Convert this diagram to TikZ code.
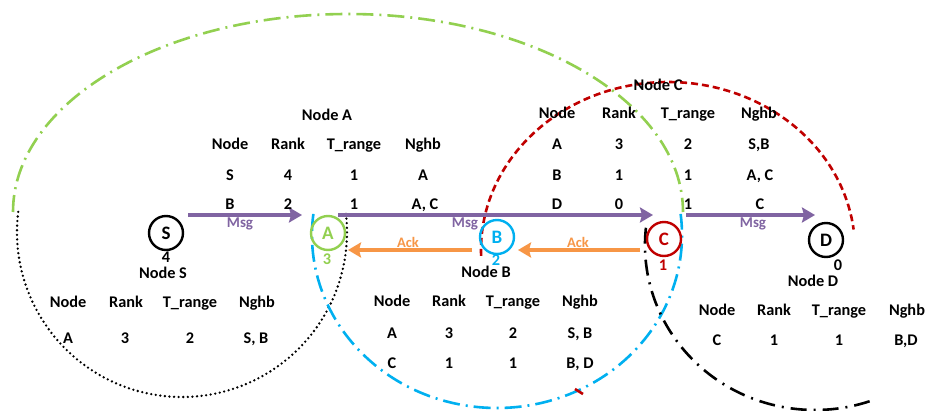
\documentclass[tikz,border=0pt]{standalone}
\usepackage{fontspec}
\setmainfont{Carlito}
\usetikzlibrary{arrows.meta}
\definecolor{cgreen}{HTML}{92D050}
\definecolor{ccyan}{HTML}{00B0F0}
\definecolor{cred}{HTML}{C00000}
\definecolor{cpurple}{HTML}{8064A2}
\definecolor{corange}{HTML}{F79646}
\begin{document}
\begin{tikzpicture}[x=1pt,y=-1pt,
  cell/.style={anchor=base,inner sep=0pt,font=\fontsize{16.3}{18}\selectfont\bfseries},
  peer/.style={circle,draw,line width=2.4pt,minimum size=34pt,inner sep=0pt,font=\fontsize{19}{20}\selectfont\bfseries},
  msg/.style={draw=cpurple,line width=4pt,-{Stealth[length=13pt,width=15pt,inset=2pt]}},
  ack/.style={draw=corange,line width=4pt,-{Stealth[length=13pt,width=15pt,inset=2pt]}},
  msglbl/.style={anchor=base,inner sep=0pt,text=cpurple,font=\fontsize{15}{16}\selectfont\bfseries},
  acklbl/.style={anchor=base,inner sep=0pt,text=corange,font=\fontsize{14.5}{16}\selectfont\bfseries},
  rng/.style={line width=2.6pt},
  dashdot/.style={dash pattern=on 17pt off 6pt on 2pt off 6pt},
]
\useasboundingbox (0,0) rectangle (927,410);
\fill[white] (0,0) rectangle (927,410);

% ranges
\draw[rng,cgreen,dashdot] (348,212) ++(180:335pt and 198pt)
  arc[start angle=180,end angle=0,x radius=335pt,y radius=198pt];
\draw[rng,black,line cap=round,dash pattern=on 0pt off 4.6pt] (182,232) ++(173:165pt and 165pt)
  arc[start angle=173,end angle=367,x radius=165pt,y radius=165pt];
\draw[rng,ccyan,dashdot] (497,235) ++(173:185pt and 173pt)
  arc[start angle=173,end angle=367,x radius=185pt,y radius=173pt];
\draw[rng,cred,dash pattern=on 7pt off 4pt] (668,250) ++(182:187pt and 168pt)
  arc[start angle=182,end angle=7,x radius=187pt,y radius=168pt];
\draw[rng,cred] (575,389) -- (583,394);
\draw[rng,black,dash pattern=on 16pt off 7pt on 2pt off 7pt] (815,245) ++(174:170pt and 165pt)
  arc[start angle=174,end angle=290,x radius=170pt,y radius=165pt];

% peers
\node[peer] (S) at (166,233) {S};
\node[peer,draw=cgreen,text=cgreen] (A) at (328,233) {A};
\node[peer,draw=ccyan,text=ccyan] (B) at (497,237) {B};
\node[peer,draw=cred,text=cred] (C) at (664,239) {C};
\node[peer] (D) at (826,240) {D};

% rank labels under peers
\node[cell] (Sr) at (166,262) {4};
\node[cell,text=cgreen] (Ar) at (327,264) {3};
\node[cell,text=ccyan] (Br) at (496,265) {2};
\node[cell,text=cred] (Cr) at (663,270) {1};
\node[cell] (Dr) at (838,270) {0};

% arrows
\coordinate (m1a) at (188,215); \coordinate (m1b) at (302,215);
\coordinate (m2a) at (338,215); \coordinate (m2b) at (653,215);
\coordinate (m3a) at (686,215); \coordinate (m3b) at (815,215);
\coordinate (k1a) at (640,250); \coordinate (k1b) at (518,250);
\coordinate (k2a) at (472,250); \coordinate (k2b) at (348,250);
\draw[msg] (m1a) -- (m1b);
\draw[msg] (m2a) -- (m2b);
\draw[msg] (m3a) -- (m3b);
\draw[ack] (k1a) -- (k1b);
\draw[ack] (k2a) -- (k2b);
\node[msglbl] (l1) at (240,227) {Msg};
\node[msglbl] (l2) at (465,227) {Msg};
\node[msglbl] (l3) at (753,227) {Msg};
\node[acklbl] (l4) at (408,247) {Ack};
\node[acklbl] (l5) at (578,247) {Ack};

% table A
\node[cell] (aT) at (327,120) {Node A};
\foreach \t/\x [count=\i] in {Node/230,Rank/288,T\_range/354,Nghb/423}
  \node[cell] (a0\i) at (\x,149) {\t};
\foreach \t/\x [count=\i] in {S/230,4/288,1/354,A/423}
  \node[cell] (a1\i) at (\x,180) {\t};
\foreach \t/\x [count=\i] in {B/230,2/288,1/354,{A, C}/425}
  \node[cell] (a2\i) at (\x,209) {\t};

% table C
\node[cell] (cT) at (658,90) {Node C};
\foreach \t/\x [count=\i] in {Node/557,Rank/619,T\_range/688,Nghb/759}
  \node[cell] (c0\i) at (\x,118) {\t};
\foreach \t/\x [count=\i] in {A/557,3/619,2/688,{S,B}/759}
  \node[cell] (c1\i) at (\x,149) {\t};
\foreach \t/\x [count=\i] in {B/557,1/619,1/688,{A, C}/760}
  \node[cell] (c2\i) at (\x,180) {\t};
\foreach \t/\x [count=\i] in {D/557,0/619,1/688,C/760}
  \node[cell] (c3\i) at (\x,209) {\t};

% table S
\node[cell] (sT) at (163,278) {Node S};
\foreach \t/\x [count=\i] in {Node/68,Rank/126,T\_range/190,Nghb/257}
  \node[cell] (s0\i) at (\x,307) {\t};
\foreach \t/\x [count=\i] in {A/68,3/125,2/190,{S, B}/256}
  \node[cell] (s1\i) at (\x,343) {\t};

% table B
\node[cell] (bT) at (486,277) {Node B};
\foreach \t/\x [count=\i] in {Node/392,Rank/449,T\_range/513,Nghb/580}
  \node[cell] (b0\i) at (\x,306) {\t};
\foreach \t/\x [count=\i] in {A/392,3/449,2/513,{S, B}/580}
  \node[cell] (b1\i) at (\x,338) {\t};
\foreach \t/\x [count=\i] in {C/392,1/449,1/513,{B, D}/580}
  \node[cell] (b2\i) at (\x,368) {\t};

% table D
\node[cell] (dT) at (813,286) {Node D};
\foreach \t/\x [count=\i] in {Node/717,Rank/774,T\_range/839,Nghb/907}
  \node[cell] (d0\i) at (\x,315) {\t};
\foreach \t/\x [count=\i] in {C/717,1/774,1/839,{B,D}/906}
  \node[cell] (d1\i) at (\x,345) {\t};
\end{tikzpicture}
\end{document}
